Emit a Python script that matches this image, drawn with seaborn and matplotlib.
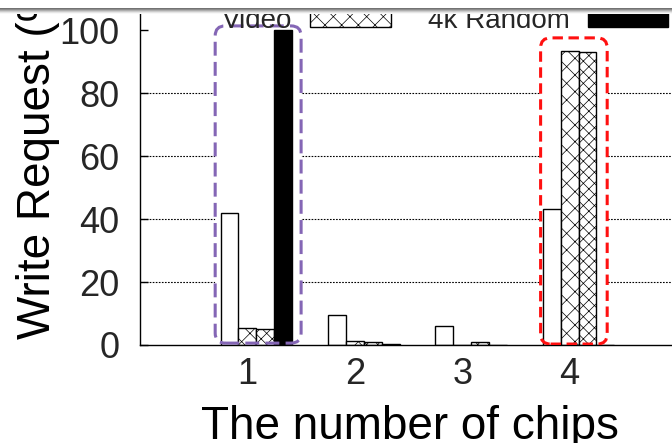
import matplotlib
matplotlib.use("Agg")
import matplotlib.pyplot as plt
import numpy as np
import pandas as pd
import seaborn as sns
from matplotlib.patches import FancyBboxPatch, Patch

# ---- data -------------------------------------------------------------
chips = [1, 2, 3, 4]
plain_share = [41.8, 9.5, 6.0, 43.3]      # open white bars
video_share = [5.4, 1.3, 0.0, 93.4]       # coarse cross-hatch
mixed_share = [5.2, 0.9, 1.0, 93.1]       # fine cross-hatch
random4k_share = [100.0, 0.3, 0.0, 0.0]   # solid black

y_ticks = [0, 20, 40, 60, 80, 100]
grid_levels = [20, 40, 60, 80]

# highlighted groups: (x0, x1, y0, y1) in data units
purple_box = (0.70, 1.50, 0.6, 101.3)
red_box = (3.73, 4.35, 0.3, 97.5)

# ---- style ------------------------------------------------------------
sns.set_theme(style="white")
plt.rcParams["font.family"] = ["Liberation Sans", "DejaVu Sans"]
plt.rcParams["hatch.linewidth"] = 0.5
plt.rcParams["lines.scale_dashes"] = False

W, H = 672, 443
fig = plt.figure(figsize=(W / 100, H / 100), dpi=100)
ax = fig.add_axes([140 / W, (H - 345) / H, 537 / W, 345 / H])

slot = 1 / 6  # five slots per chip count, bars fill slots 1..4
series = [
    (plain_share, -1, dict(color="white", edgecolor="black", linewidth=1.0)),
    (video_share, 0, dict(color="white", edgecolor="black", linewidth=1.0, hatch="xx")),
    (mixed_share, 1, dict(color="white", edgecolor="black", linewidth=1.0, hatch="xxx")),
    (random4k_share, 2, dict(color="black", edgecolor="black", linewidth=1.0)),
]
for values, k, style in series:
    df = pd.DataFrame({"x": np.array(chips) + k * slot, "y": values})
    sns.barplot(data=df, x="x", y="y", native_scale=True, width=slot,
                errorbar=None, saturation=1, ax=ax, zorder=2, **style)

ax.set_xlim(0, 5)
ax.set_ylim(0, 345 / 3.15)

# dotted guide lines
ax.hlines(grid_levels, 0, 5, colors="black", linewidth=0.8,
          linestyles=(0, (1.2, 1.0)), zorder=0.5)

# rounded, dashed highlight frames (white inside, dashed border on top)
p0 = ax.transData.transform((0, 0))
px_x = ax.transData.transform((1, 0))[0] - p0[0]
px_y = ax.transData.transform((0, 1))[1] - p0[1]
aspect = px_x / px_y
for (x0, x1, y0, y1), col, dash in [
    (purple_box, "#8466b5", (0, (10, 4.5))),
    (red_box, "#ff1010", (0, (7.5, 4))),
]:
    style = "round,pad=0,rounding_size=%g" % (10 / px_x)
    ax.add_patch(FancyBboxPatch((x0, y0), x1 - x0, y1 - y0, boxstyle=style,
                                mutation_aspect=aspect, facecolor="white",
                                edgecolor="none", zorder=1))
    ax.add_patch(FancyBboxPatch((x0, y0), x1 - x0, y1 - y0, boxstyle=style,
                                mutation_aspect=aspect, facecolor="none",
                                edgecolor=col, linewidth=2.2, linestyle=dash,
                                zorder=3))

# axes frame and ticks
for s in ["top", "right"]:
    ax.spines[s].set_visible(False)
for s in ["left", "bottom"]:
    ax.spines[s].set_color("black")
    ax.spines[s].set_linewidth(1.0)
ax.set_yticks(y_ticks)
ax.set_xticks(chips)
ax.set_xticklabels([str(c) for c in chips])
ax.tick_params(axis="y", direction="in", length=6, width=1, color="black",
               labelsize=26, pad=15, left=True)
ax.tick_params(axis="x", length=0, labelsize=26, pad=9)

ax.set_ylabel("Write Request (%)", fontsize=33, color="black")
ax.yaxis.set_label_coords(-0.149, 0.559)
ax.set_xlabel("The number of chips", fontsize=33, color="black")
ax.xaxis.set_label_coords(0.502, -0.173)

handles = [Patch(facecolor="white", edgecolor="black", hatch="xx", linewidth=1.0),
           Patch(facecolor="black", edgecolor="black")]
ax.legend(handles, ["Video", "4k Random"], ncol=2, markerfirst=False,
          frameon=False, fontsize=20, handlelength=2.9, handleheight=0.6,
          handletextpad=0.65, columnspacing=1.33, borderpad=0,
          borderaxespad=0, loc="upper left",
          bbox_to_anchor=(222 / W, 1.0 - 8 / H), bbox_transform=fig.transFigure)

# shaded strip across the top edge
strip = np.array([1, 1, 1, 1, 1, 1, 1, 1, 0.45, 0.55, 0.68, 0.8, 0.9, 0.97])
top = fig.add_axes([0, 1 - len(strip) / H, 1, len(strip) / H], zorder=10)
top.imshow(np.repeat(strip[:, None], 4, axis=1), cmap="gray", vmin=0, vmax=1,
           aspect="auto", interpolation="nearest")
top.axis("off")

fig.savefig("out.png", dpi=100)
